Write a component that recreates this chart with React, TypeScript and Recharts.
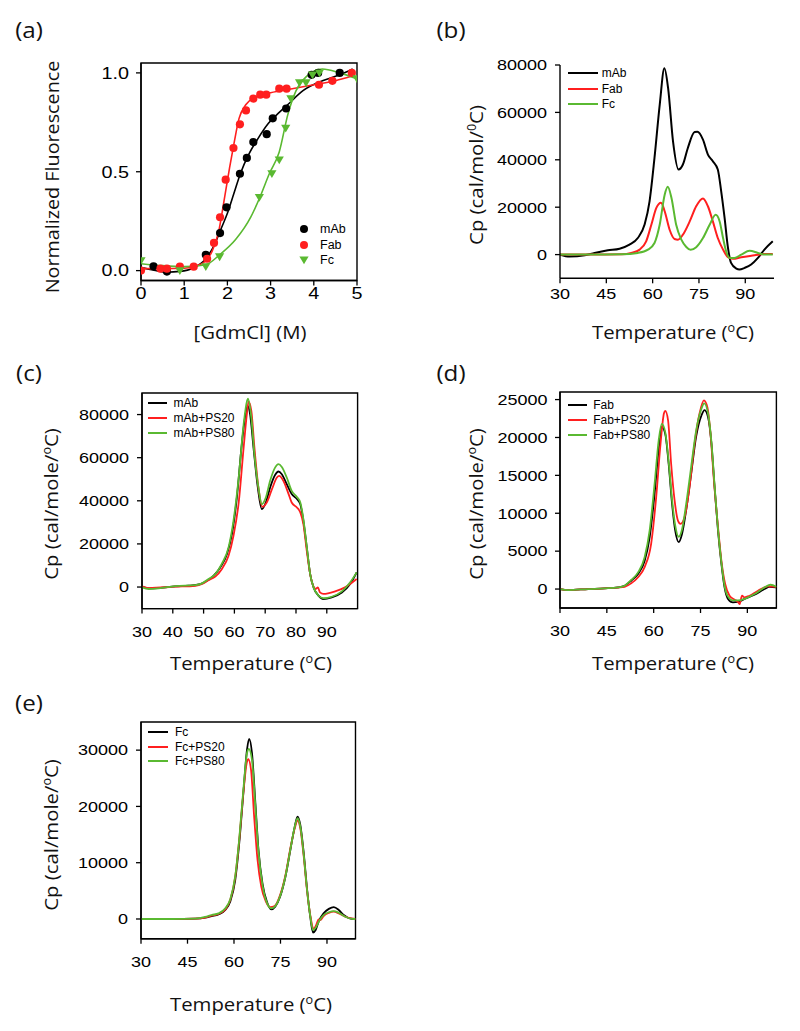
import React from "react";
import {
  ComposedChart,
  Line,
  Scatter,
  XAxis,
  YAxis,
  ReferenceArea,
  Legend,
} from "recharts";

// ---- colours / fonts ----
const BLACK = "#000000";
const RED = "#ff1f1f";
const GREEN = "#5ab931";
const TICK_FONT = "'Liberation Sans', Arial, sans-serif";
const TITLE_FONT = "'Open Sans', sans-serif";

// ---- (a) GdmCl denaturation ----
const gdmTicks = [0, 1, 2, 3, 4, 5];
const fluorTicks = [0, 0.5, 1.0];

const mabPtsX = [0.29, 0.6, 1.5, 1.83, 1.98, 2.29, 2.45, 2.6, 2.91, 3.05, 3.36, 3.95, 4.1, 4.6];
const mabPtsY = [0.022, -0.005, 0.08, 0.19, 0.32, 0.49, 0.57, 0.65, 0.69, 0.77, 0.82, 0.99, 1.0, 1.0];
const fabPtsX = [0, 0.45, 0.6, 0.9, 1.22, 1.53, 1.69, 1.83, 1.96, 2.14, 2.29, 2.43, 2.6, 2.76, 2.9, 3.2, 3.37, 4.12, 4.43, 4.88];
const fabPtsY = [0.0, 0.01, 0.01, 0.02, 0.02, 0.06, 0.14, 0.27, 0.46, 0.62, 0.74, 0.81, 0.87, 0.89, 0.89, 0.92, 0.92, 0.94, 0.96, 1.0];
const fcPtsX = [0, 0.9, 1.5, 1.82, 2.74, 3.03, 3.2, 3.35, 3.47, 3.67, 3.82, 3.97, 4.13, 5.0];
const fcPtsY = [0.05, 0.0, 0.02, 0.07, 0.37, 0.49, 0.56, 0.72, 0.87, 0.95, 0.95, 0.99, 1.0, 0.97];

const mabFitX = [0, 0.3, 0.6, 0.9, 1.2, 1.5, 1.7, 1.85, 2.0, 2.15, 2.3, 2.5, 2.7, 2.95, 3.2, 3.4, 3.75, 4.2, 4.6, 4.9];
const mabFitY = [0.015, 0.002, -0.008, -0.004, 0.012, 0.06, 0.13, 0.21, 0.29, 0.39, 0.49, 0.59, 0.665, 0.745, 0.8, 0.84, 0.91, 0.96, 0.99, 1.02];
const fabFitX = [0, 0.5, 1.0, 1.3, 1.5, 1.65, 1.8, 1.92, 2.05, 2.15, 2.27, 2.43, 2.66, 3.0, 3.5, 4.0, 4.5, 4.9];
const fabFitY = [0.01, 0.01, 0.012, 0.025, 0.05, 0.1, 0.2, 0.35, 0.52, 0.64, 0.77, 0.84, 0.88, 0.9, 0.92, 0.94, 0.96, 0.985];
const fcFitX = [0, 0.5, 1.0, 1.5, 1.82, 2.19, 2.54, 2.75, 2.97, 3.2, 3.4, 3.59, 3.82, 4.2, 4.6, 5.0];
const fcFitY = [0.035, 0.025, 0.02, 0.03, 0.08, 0.157, 0.27, 0.37, 0.49, 0.6, 0.79, 0.91, 0.98, 1.02, 1.0, 0.97];

// ---- (b) DSC of mAb, Fab, Fc ----
const tempTicks15 = [30, 45, 60, 75, 90];
const tempTicks10 = [30, 40, 50, 60, 70, 80, 90];

const bMabT = [30, 33.1, 38, 41.2, 45.5, 49.3, 52.5, 55.2, 57.4, 59, 60.6, 62.3, 63.8, 65, 66.6, 68.4, 69.8, 71.4, 73.6, 74.5, 76.3, 77.9, 79.5, 81.1, 82.2, 83.3, 84.4, 85.4, 87.1, 88.1, 89.8, 91.9, 94.1, 96.2, 98.9];
const bMabCp = [0, -850, -280, 700, 1800, 2500, 4200, 7000, 12700, 22500, 40800, 63300, 78600, 70300, 47800, 35900, 38000, 45000, 51700, 51800, 48500, 42200, 39400, 35900, 26700, 15500, 2800, -3500, -5900, -6300, -5600, -4200, -1400, 2100, 5600];
const bFabT = [30, 40, 50, 53.1, 55.8, 57.9, 59.6, 61.2, 62.7, 63.9, 65.5, 67.1, 68.2, 69.8, 72, 74.1, 76.3, 77.9, 79.5, 81.1, 82.8, 84.4, 86, 88.7, 93, 96.2, 98.9];
const bFabCp = [0, 0, 100, 700, 2100, 5600, 12700, 19700, 21900, 18300, 10500, 6600, 6300, 8400, 14000, 20400, 23700, 20400, 14000, 7000, 2100, -1100, -1800, -1100, -300, 300, 300];
const bFcT = [30, 40, 50, 55.2, 58.5, 60.6, 62.3, 63.9, 64.9, 66.1, 67.6, 69.3, 70.9, 72.3, 74.1, 76.3, 78.5, 80.4, 81.7, 82.8, 83.8, 84.9, 86.5, 88.7, 91.4, 94.1, 96.2, 98.9];
const bFcCp = [0, 0, 100, 700, 2100, 4900, 12700, 25300, 28600, 23900, 12700, 6300, 3200, 2000, 3100, 7000, 12700, 16800, 14000, 7000, 1400, -1400, -1400, 0, 1600, 700, 0, 0];

// ---- (c) mAb with polysorbates ----
const cMabT = [30, 32.2, 35.4, 40.8, 45.1, 48.9, 51.1, 53.2, 55.4, 57.6, 59.2, 60.8, 62.4, 63.7, 64.3, 65.1, 66.2, 67.6, 68.9, 70.2, 71.6, 73.2, 74.3, 75.4, 77, 78.6, 80.3, 81.4, 82.4, 83.5, 84.6, 85.7, 87.3, 88.9, 91.6, 94.9, 97.6, 99.7];
const cMabCp = [150, -600, -460, 300, 600, 1400, 2900, 5200, 9100, 15300, 24500, 41500, 66200, 80900, 84000, 80100, 64700, 46200, 36100, 39200, 46200, 52000, 53600, 52300, 47700, 43100, 40800, 38400, 30700, 18400, 6000, -150, -4000, -5600, -4800, -2500, 1400, 6800];
const cPs20T = [30, 32.2, 40.8, 47.3, 49.5, 51.6, 53.8, 55.9, 58.1, 59.7, 61.4, 63, 64.1, 64.6, 65.5, 66.5, 67.8, 69.1, 70.5, 72.2, 73.8, 74.5, 75.9, 77.6, 78.6, 80.3, 81.4, 82.4, 83.5, 84.6, 85.7, 86.4, 87.1, 87.8, 88.9, 92.7, 95.9, 99.7];
const cPs20Cp = [300, -460, 150, 600, 1400, 3200, 4900, 8300, 14500, 23800, 39200, 64700, 80900, 86000, 81700, 64700, 46200, 37200, 39200, 45400, 50800, 51600, 49300, 43100, 39200, 36900, 34600, 29200, 16800, 6000, 150, -900, -150, -2500, -3200, -2000, -150, 3700];
const cPs80T = [30, 32.2, 35.4, 40.8, 47.3, 49.5, 51.6, 53.8, 55.9, 58.1, 59.7, 61.4, 63, 64.1, 64.4, 65.5, 66.5, 67.8, 68.9, 70.2, 71.6, 73.2, 74.3, 75.4, 77, 78.6, 80.3, 81.4, 82.4, 83.5, 84.6, 85.7, 87.3, 88.9, 91.6, 94.9, 97.6, 99.7];
const cPs80Cp = [-150, -900, -600, 450, 900, 1700, 3700, 6000, 10700, 18400, 30700, 50800, 75500, 86300, 87400, 78600, 61600, 46200, 38400, 41500, 49300, 55400, 57000, 55700, 50800, 44600, 41800, 39200, 31500, 18700, 6000, -150, -4000, -5200, -4500, -2000, 2200, 6800];

// ---- (d) Fab with polysorbates ----
const dFabT = [30, 32.6, 39, 44.3, 48.6, 50.7, 52.8, 55, 57.1, 58.7, 60.3, 61.6, 62.6, 63.7, 64.8, 65.9, 66.9, 68, 69.1, 70.4, 72, 73.6, 75.3, 76.3, 77.4, 78.5, 79.5, 80.6, 81.7, 82.7, 83.8, 85.4, 87, 89.1, 92.3, 95.5, 97.1, 99.3];
const dFabCp = [0, -130, 0, 90, 220, 440, 1100, 2000, 3700, 6800, 12600, 18500, 21400, 20500, 16500, 11200, 7700, 6200, 7300, 10400, 15200, 20100, 22900, 23600, 22700, 19200, 13500, 7700, 3300, 220, -1300, -1760, -1700, -1300, -750, 0, 300, 220];
const dPs20T = [30, 32.6, 39, 44.3, 48.6, 50.7, 52.8, 55, 57.1, 59.2, 60.8, 62.2, 63.3, 63.7, 64.6, 65.6, 66.7, 67.8, 68.6, 69.9, 71.5, 73.1, 74.7, 76.1, 77.2, 78.2, 79.3, 80.6, 81.7, 82.9, 84.3, 85.9, 87, 87.5, 88.3, 89.1, 90.7, 93.4, 96.6, 99.3];
const dPs20Cp = [0, -130, 0, 90, 200, 300, 750, 1550, 2900, 6000, 12100, 19200, 23200, 23500, 22300, 16500, 11700, 9000, 8600, 9500, 13500, 19200, 23200, 24900, 24000, 20500, 14300, 8200, 3700, 660, -880, -1400, -1700, -2000, -880, -1100, -880, -220, 350, 300];
const dPs80T = [30, 32.6, 39, 44.3, 48.6, 50.7, 52.8, 55, 57.1, 58.7, 60.3, 61.6, 62.6, 63.7, 64.8, 65.9, 66.9, 68, 69.1, 70.4, 72, 73.6, 75.3, 76.2, 77.4, 78.5, 79.5, 80.6, 81.7, 82.7, 83.8, 85.4, 87, 89.1, 92.3, 95.5, 97.4, 99.3];
const dPs80Cp = [0, -130, 0, 90, 220, 440, 1200, 2200, 4200, 7700, 13900, 19600, 21800, 20700, 16800, 11700, 8400, 6900, 7900, 11200, 16100, 20900, 23800, 24500, 23200, 19400, 13700, 7900, 3500, 440, -1000, -1500, -1500, -1300, -660, 220, 570, 300];

// ---- (e) Fc with polysorbates ----
const eFcT = [30, 40, 47.5, 50.7, 52.8, 55, 57.2, 58.8, 60.4, 61.7, 63.1, 64.2, 64.9, 65.8, 66.9, 67.9, 69.2, 70.6, 72, 73.3, 74.9, 76.6, 78.2, 79.6, 80.5, 81.4, 82.5, 83.6, 84.6, 85.5, 86.3, 87.3, 88.9, 90.6, 92.2, 93.8, 95.4, 97.6, 99.2];
const eFcCp = [0, 0, 60, 240, 530, 830, 1600, 3100, 6900, 13500, 22900, 30100, 32000, 29500, 20600, 12300, 6300, 3100, 1700, 2200, 4000, 7500, 12300, 16400, 18200, 16700, 11700, 5200, 400, -2400, -2000, -470, 1000, 1800, 2100, 1600, 700, 60, 0];
const ePs20T = [30, 40, 47.5, 50.7, 52.8, 55, 57.2, 58.8, 60.4, 61.7, 63.1, 64.1, 64.6, 65.5, 66.5, 67.6, 68.8, 70.3, 71.7, 73.1, 74.9, 76.6, 78.2, 79.6, 80.5, 81.4, 82.5, 83.6, 84.6, 85.7, 86.5, 87.3, 87.9, 88.9, 90.6, 92.2, 93.8, 95.9, 99.2];
const ePs20Cp = [0, 0, 60, 240, 600, 890, 1700, 3400, 7500, 14100, 22900, 27700, 28400, 26500, 18200, 10500, 5750, 3100, 2100, 2300, 4300, 7800, 12600, 16100, 17500, 16100, 11100, 4900, 700, -1700, -1100, -60, -180, 530, 1100, 1300, 1000, 400, 0];
const ePs80T = [30, 40, 47.5, 50.7, 52.8, 55, 57.2, 58.8, 60.4, 61.7, 63.1, 64.2, 64.8, 65.8, 66.9, 67.9, 69.2, 70.6, 72, 73.3, 74.9, 76.6, 78.2, 79.6, 80.5, 81.4, 82.5, 83.6, 84.6, 85.5, 86.4, 87.5, 88.9, 90.6, 92.2, 93.8, 95.9, 98.6, 99.2];
const ePs80Cp = [0, 0, 60, 360, 710, 1000, 1900, 3500, 7600, 14300, 23500, 29500, 30200, 28300, 20000, 12000, 6000, 2900, 1900, 2300, 4100, 7600, 12400, 16400, 17900, 16400, 11400, 5000, 530, -2000, -1500, -300, 700, 1200, 1400, 1100, 400, 0, 0];

const zip = (xs: number[], ys: number[]) => xs.map((x, i) => ({ x, y: ys[i] }));

// ---- layout ----
type PlotBox = { left: number; top: number; width: number; height: number };
const YW = 80;
const PAD = 12;
const XH = 44;
const STRETCH = 1.2; // the source figure is drawn a little wide

type Item = { name: string; color: string; kind: "line" | "circle" | "tri" };
type LegendSpec = {
  items: Item[];
  left: number; // page coords
  top: number;
  icon: number;
  gap: number;
  row: number;
  fontSize: number;
};

const TriDown = ({ cx, cy, color, s = 4.6 }: { cx: number; cy: number; color: string; s?: number }) => (
  <polygon
    points={`${cx - s},${cy - s * 0.75} ${cx + s},${cy - s * 0.75} ${cx},${cy + s * 0.95}`}
    fill={color}
  />
);

function LegendBox({ spec }: { spec: LegendSpec }) {
  return (
    <div style={{ fontFamily: TICK_FONT, fontSize: spec.fontSize, color: "#000" }}>
      {spec.items.map((it) => (
        <div
          key={it.name}
          style={{ display: "flex", alignItems: "center", height: spec.row, whiteSpace: "nowrap" }}
        >
          <svg width={spec.icon} height={10} style={{ marginRight: spec.gap, flex: "none" }}>
            {it.kind === "line" && (
              <line x1={0} x2={spec.icon} y1={5} y2={5} stroke={it.color} strokeWidth={2} />
            )}
            {it.kind === "circle" && <circle cx={spec.icon / 2} cy={5} r={4} fill={it.color} />}
            {it.kind === "tri" && <TriDown cx={spec.icon / 2} cy={5} color={it.color} />}
          </svg>
          <span>{it.name}</span>
        </div>
      ))}
    </div>
  );
}

// tick label drawn slightly wide, like the source figure
function WideTick(props: any) {
  const { x, y, payload, textAnchor, verticalAnchor, fontSize, fmt } = props;
  const label = fmt ? fmt(payload.value) : String(payload.value);
  const dy = verticalAnchor === "start" ? "0.71em" : "0.355em";
  return (
    <g transform={`translate(${x},${y})`}>
      <text
        transform={`scale(${STRETCH},1)`}
        textAnchor={textAnchor}
        dy={dy}
        fontSize={fontSize}
        fontFamily={TICK_FONT}
        fill="#000"
      >
        {label}
      </text>
    </g>
  );
}

type PanelProps = {
  box: PlotBox;
  xDomain: [number, number];
  yDomain: [number, number];
  xTicks: number[];
  yTicks: number[];
  yFmt?: (v: number) => string;
  tickFont: number;
  xTickMargin: number;
  yTickMargin: number;
  framed: boolean;
  legend: LegendSpec;
  children: React.ReactNode;
};

function Panel(p: PanelProps) {
  const chartLeft = p.box.left - YW;
  const chartTop = p.box.top - PAD;
  return (
    <div style={{ position: "absolute", left: chartLeft, top: chartTop }}>
      <ComposedChart
        width={p.box.width + YW + PAD}
        height={p.box.height + PAD + XH}
        margin={{ top: PAD, right: PAD, bottom: 0, left: 0 }}
      >
        <XAxis
          type="number"
          dataKey="x"
          domain={p.xDomain}
          ticks={p.xTicks}
          interval={0}
          allowDataOverflow
          height={XH}
          tickSize={5}
          tickMargin={p.xTickMargin}
          axisLine={{ stroke: "#000", strokeWidth: 1.4 }}
          tickLine={{ stroke: "#000", strokeWidth: 1.3 }}
          tick={(t: any) => <WideTick {...t} fontSize={p.tickFont} />}
        />
        <YAxis
          type="number"
          dataKey="y"
          domain={p.yDomain}
          ticks={p.yTicks}
          interval={0}
          allowDataOverflow
          width={YW}
          tickSize={5}
          tickMargin={p.yTickMargin}
          axisLine={{ stroke: "#000", strokeWidth: 1.4 }}
          tickLine={{ stroke: "#000", strokeWidth: 1.3 }}
          tick={(t: any) => <WideTick {...t} fontSize={p.tickFont} fmt={p.yFmt} />}
        />
        {p.framed && (
          <ReferenceArea
            x1={p.xDomain[0]}
            x2={p.xDomain[1]}
            y1={p.yDomain[0]}
            y2={p.yDomain[1]}
            fill="none"
            fillOpacity={0}
            stroke="#000"
            strokeWidth={1.4}
          />
        )}
        {p.children}
        <Legend
          layout="vertical"
          align="center"
          verticalAlign="middle"
          wrapperStyle={{
            left: p.legend.left - chartLeft,
            top: p.legend.top - chartTop,
            width: "auto",
            height: "auto",
          }}
          content={() => <LegendBox spec={p.legend} />}
        />
      </ComposedChart>
    </div>
  );
}

const curve = (pts: { x: number; y: number }[], color: string, name: string, w = 1.8) => (
  <Line
    key={name}
    name={name}
    data={pts}
    dataKey="y"
    type="monotone"
    stroke={color}
    strokeWidth={w}
    dot={false}
    activeDot={false}
    isAnimationActive={false}
  />
);

function Title({ x, y, size = 19, sx = 1.07, rotate = false, children }: { x: number; y: number; size?: number; sx?: number; rotate?: boolean; children: React.ReactNode }) {
  return (
    <div
      style={{
        position: "absolute",
        left: x,
        top: y,
        transform: `translate(-50%, -50%)${rotate ? " rotate(-90deg)" : ""} scaleX(${sx})`,
        fontFamily: TITLE_FONT,
        fontSize: size,
        color: "#111",
        whiteSpace: "nowrap",
        lineHeight: 1.36,
      }}
    >
      {children}
    </div>
  );
}

const Sup = ({ children }: { children: React.ReactNode }) => (
  <span style={{ fontSize: "0.62em", verticalAlign: "0.6em", lineHeight: 0 }}>{children}</span>
);

const cpFmt = (v: number) => String(v);

export default function App() {
  const circleShape = (color: string) => (props: any) => (
    <circle cx={props.cx} cy={props.cy} r={4.1} fill={color} />
  );
  const triShape = (props: any) => <TriDown cx={props.cx} cy={props.cy} color={GREEN} />;

  return (
    <div style={{ position: "absolute", left: 0, top: 0, width: 800, height: 1031, background: "#fff" }}>
      {/* (a) */}
      <Panel
        box={{ left: 140.5, top: 63, width: 216, height: 217.5 }}
        xDomain={[0, 5]}
        yDomain={[-0.05, 1.05]}
        xTicks={gdmTicks}
        yTicks={fluorTicks}
        yFmt={(v) => v.toFixed(1)}
        tickFont={16.5}
        xTickMargin={2}
        yTickMargin={7}
        framed
        legend={{
          items: [
            { name: "mAb", color: BLACK, kind: "circle" },
            { name: "Fab", color: RED, kind: "circle" },
            { name: "Fc", color: GREEN, kind: "tri" },
          ],
          left: 299,
          top: 221.6,
          icon: 10,
          gap: 11,
          row: 15.4,
          fontSize: 12.5,
        }}
      >
        {curve(zip(mabFitX, mabFitY), BLACK, "mAb fit", 1.6)}
        {curve(zip(fabFitX, fabFitY), RED, "Fab fit", 1.6)}
        {curve(zip(fcFitX, fcFitY), GREEN, "Fc fit", 1.6)}
        <Scatter name="mAb" data={zip(mabPtsX, mabPtsY)} fill={BLACK} shape={circleShape(BLACK)} isAnimationActive={false} />
        <Scatter name="Fab" data={zip(fabPtsX, fabPtsY)} fill={RED} shape={circleShape(RED)} isAnimationActive={false} />
        <Scatter name="Fc" data={zip(fcPtsX, fcPtsY)} fill={GREEN} shape={triShape} isAnimationActive={false} />
      </Panel>

      {/* (b) */}
      <Panel
        box={{ left: 560.3, top: 64.7, width: 214, height: 213.3 }}
        xDomain={[30, 99.3]}
        yDomain={[-10000, 80000]}
        xTicks={tempTicks15}
        yTicks={[0, 20000, 40000, 60000, 80000]}
        yFmt={cpFmt}
        tickFont={15}
        xTickMargin={5}
        yTickMargin={8}
        framed={false}
        legend={{
          items: [
            { name: "mAb", color: BLACK, kind: "line" },
            { name: "Fab", color: RED, kind: "line" },
            { name: "Fc", color: GREEN, kind: "line" },
          ],
          left: 567.7,
          top: 65.3,
          icon: 30,
          gap: 4,
          row: 15.5,
          fontSize: 12,
        }}
      >
        {curve(zip(bMabT, bMabCp), BLACK, "mAb", 2)}
        {curve(zip(bFabT, bFabCp), RED, "Fab", 2)}
        {curve(zip(bFcT, bFcCp), GREEN, "Fc", 2)}
      </Panel>

      {/* (c) */}
      <Panel
        box={{ left: 141.7, top: 392.7, width: 215.6, height: 215.6 }}
        xDomain={[30, 100]}
        yDomain={[-10000, 90000]}
        xTicks={tempTicks10}
        yTicks={[0, 20000, 40000, 60000, 80000]}
        yFmt={cpFmt}
        tickFont={15}
        xTickMargin={12.5}
        yTickMargin={8}
        framed
        legend={{
          items: [
            { name: "mAb", color: BLACK, kind: "line" },
            { name: "mAb+PS20", color: RED, kind: "line" },
            { name: "mAb+PS80", color: GREEN, kind: "line" },
          ],
          left: 148,
          top: 395.5,
          icon: 19,
          gap: 6.5,
          row: 15,
          fontSize: 12,
        }}
      >
        {curve(zip(cMabT, cMabCp), BLACK, "mAb")}
        {curve(zip(cPs20T, cPs20Cp), RED, "mAb+PS20")}
        {curve(zip(cPs80T, cPs80Cp), GREEN, "mAb+PS80")}
      </Panel>

      {/* (d) */}
      <Panel
        box={{ left: 560.3, top: 392.3, width: 216.4, height: 216 }}
        xDomain={[30, 99.3]}
        yDomain={[-2500, 26000]}
        xTicks={tempTicks15}
        yTicks={[0, 5000, 10000, 15000, 20000, 25000]}
        yFmt={cpFmt}
        tickFont={15}
        xTickMargin={12}
        yTickMargin={7.5}
        framed
        legend={{
          items: [
            { name: "Fab", color: BLACK, kind: "line" },
            { name: "Fab+PS20", color: RED, kind: "line" },
            { name: "Fab+PS80", color: GREEN, kind: "line" },
          ],
          left: 567.7,
          top: 397.2,
          icon: 19,
          gap: 6.5,
          row: 15,
          fontSize: 12,
        }}
      >
        {curve(zip(dFabT, dFabCp), BLACK, "Fab")}
        {curve(zip(dPs20T, dPs20Cp), RED, "Fab+PS20")}
        {curve(zip(dPs80T, dPs80Cp), GREEN, "Fab+PS80")}
      </Panel>

      {/* (e) */}
      <Panel
        box={{ left: 141, top: 722, width: 214.5, height: 216.7 }}
        xDomain={[30, 99.2]}
        yDomain={[-3500, 35000]}
        xTicks={tempTicks15}
        yTicks={[0, 10000, 20000, 30000]}
        yFmt={cpFmt}
        tickFont={15}
        xTickMargin={12.5}
        yTickMargin={8}
        framed
        legend={{
          items: [
            { name: "Fc", color: BLACK, kind: "line" },
            { name: "Fc+PS20", color: RED, kind: "line" },
            { name: "Fc+PS80", color: GREEN, kind: "line" },
          ],
          left: 147.7,
          top: 724.6,
          icon: 20.5,
          gap: 6.7,
          row: 14.7,
          fontSize: 12,
        }}
      >
        {curve(zip(eFcT, eFcCp), BLACK, "Fc")}
        {curve(zip(ePs20T, ePs20Cp), RED, "Fc+PS20")}
        {curve(zip(ePs80T, ePs80Cp), GREEN, "Fc+PS80")}
      </Panel>

      {/* panel letters */}
      <Title x={28.8} y={29.5} size={22} sx={1.1}>(a)</Title>
      <Title x={451} y={29.5} size={22} sx={1.1}>(b)</Title>
      <Title x={28.8} y={372.5} size={22} sx={1.1}>(c)</Title>
      <Title x={451} y={373} size={22} sx={1.1}>(d)</Title>
      <Title x={28.8} y={702.5} size={22} sx={1.1}>(e)</Title>

      {/* axis titles */}
      <Title x={53.3} y={176.5} rotate sx={1.04}>Normalized Fluorescence</Title>
      <Title x={250} y={333}>[GdmCl] (M)</Title>

      <Title x={477} y={175} rotate>Cp (cal/mol/<Sup>0</Sup>C)</Title>
      <Title x={673} y={333}>Temperature (<Sup>o</Sup>C)</Title>

      <Title x={52} y={503.5} rotate>Cp (cal/mole/<Sup>o</Sup>C)</Title>
      <Title x={251} y={663.5}>Temperature (<Sup>o</Sup>C)</Title>

      <Title x={477} y={504} rotate>Cp (cal/mole/<Sup>o</Sup>C)</Title>
      <Title x={673} y={663.5}>Temperature (<Sup>o</Sup>C)</Title>

      <Title x={52} y={835} rotate>Cp (cal/mole/<Sup>o</Sup>C)</Title>
      <Title x={251} y={1005}>Temperature (<Sup>o</Sup>C)</Title>
    </div>
  );
}
